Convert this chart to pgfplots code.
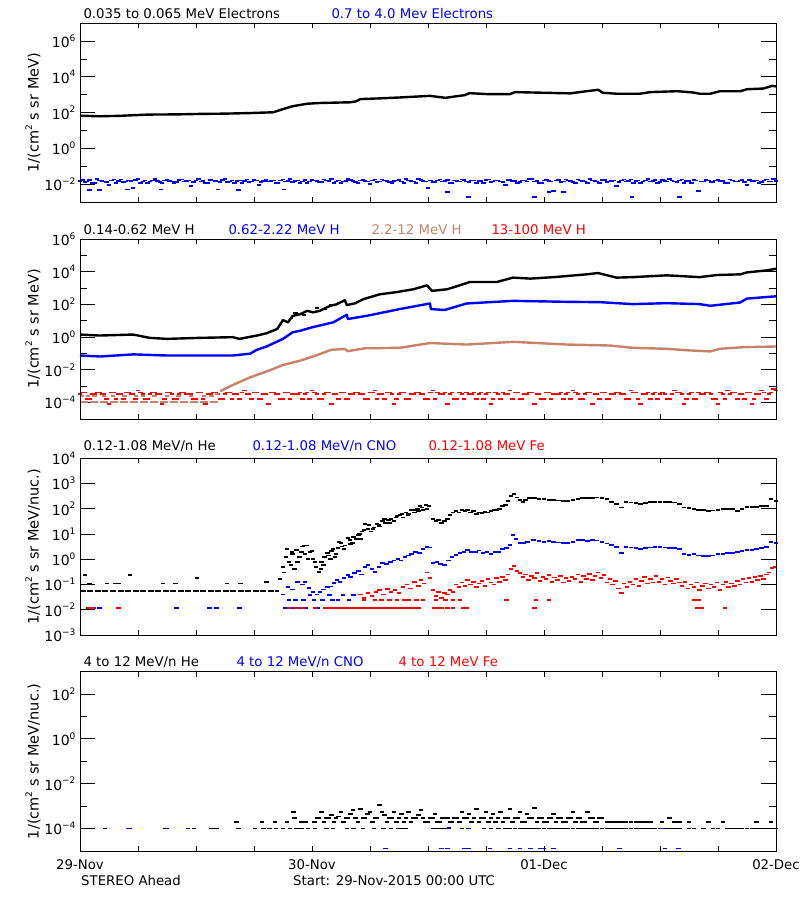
\documentclass[border=0pt]{standalone}
\usepackage{fontspec}
\setmainfont{DejaVu Sans}
\usepackage{pgfplots}
\pgfplotsset{compat=1.18}
\definecolor{idlblue}{RGB}{0,0,255}
\definecolor{idlred}{RGB}{255,0,0}
\definecolor{idlbrown}{RGB}{200,130,105}
\newcommand{\SP}[1]{\raisebox{0.45em}{\fontsize{9}{9}\selectfont #1}}
\pgfplotsset{
 panel/.style={scale only axis, width=696pt, xmin=0, xmax=72, anchor=north west,
  xtick=\empty, ytick pos=both, tick align=inside,
  major tick length=15pt, minor tick length=7pt,
  tick style={line width=0.9pt,black},
  axis line style={line width=0.9pt},
  yticklabel style={font=\fontsize{14}{16}\selectfont, xshift=-1pt},
  ylabel style={at={(axis description cs:-0.0675,0.5)},anchor=center,font=\fontsize{14.5}{16}\selectfont},
 },
 xov/.style={scale only axis, width=696pt, xmin=0, xmax=72, anchor=north west, ymin=0, ymax=1,
  ytick=\empty, xtick={0,24,48,72}, minor xtick={6,12,18,30,36,42,54,60,66}, xticklabels={},
  xtick pos=both, tick align=inside, major tick length=5pt, minor tick length=5pt,
  tick style={line width=0.9pt,black}, axis line style={line width=0.9pt}},
 sc/.style={only marks, mark=-, mark size=2.2pt, mark options={line width=1.8pt}},
 ln/.style={no marks, line width=2.4pt, line join=round},
}
\begin{document}
\begin{tikzpicture}[font=\fontsize{13.3}{15}\selectfont]
\path[use as bounding box] (0,0) rectangle (800pt,-900pt);
% ---------------- Panel 1
\begin{axis}[ymode=log, panel, at={(80pt,-23.3pt)}, height=178.7pt, ymin=1e-3, ymax=1e7,
  ytick={1e-2,1e0,1e2,1e4,1e6}, minor ytick={1e-3,1e-1,1e1,1e3,1e5},
  yticklabels={10\SP{−2},10\SP{0},10\SP{2},10\SP{4},10\SP{6}},
  ylabel={1/(cm\SP{2} s sr MeV)}]
\addplot[ln,black] coordinates {(0,68)(1,65)(2,63)(4,66)(7,78)(10,80)(12.4,85)(15,88)(17.6,95)(20,105)(21,158)(22,229)(23.5,316)(24.8,347)(27.9,380)(28.5,420)(29,575)(31,630)(33.1,708)(36.2,871)(37.8,676)(39.8,955)(40.3,1230)(42.1,1096)(44.5,1096)(45,1413)(50.7,1202)(52.4,1585)(53.6,1905)(54.1,1288)(55.5,1148)(57.9,1148)(59,1413)(61.8,1585)(63.4,1349)(64.1,1148)(65.2,1148)(66.2,1585)(68.3,1585)(69,2042)(70.7,2239)(71.6,3162)(72,2951)};
\addplot[sc,idlblue] coordinates {(0,0.015)(0.5,0.013)(1,0.017)(1.5,0.012)(2,0.016)(2.5,0.014)(3,0.009)(3.5,0.018)(4,0.015)(4.5,0.013)(5,0.016)(5.5,0.006)(6,0.019)(6.5,0.014)(7,0.012)(7.5,0.016)(8,0.015)(8.5,0.011)(9,0.017)(9.5,0.014)(10,0.013)(10.5,0.018)(11,0.015)(11.5,0.008)(12,0.016)(12.5,0.014)(13,0.012)(13.5,0.017)(14,0.015)(14.5,0.013)(15,0.019)(15.5,0.014)(16,0.011)(16.5,0.016)(17,0.015)(17.5,0.013)(18,0.017)(18.5,0.009)(19,0.015)(19.5,0.014)(20,0.016)(20.5,0.012)(21,0.018)(21.5,0.015)(22,0.013)(22.5,0.016)(23,0.014)(23.5,0.011)(24,0.017)(24.5,0.015)(25,0.013)(25.5,0.016)(26,0.019)(26.5,0.014)(27,0.012)(27.5,0.015)(28,0.017)(28.5,0.013)(29,0.016)(29.5,0.015)(30,0.010)(30.5,0.018)(31,0.014)(31.5,0.016)(32,0.013)(32.5,0.015)(33,0.017)(33.5,0.012)(34,0.016)(34.5,0.014)(35,0.019)(35.5,0.015)(36,0.006)(36.5,0.013)(37,0.016)(37.5,0.014)(38,0.017)(38.5,0.012)(39,0.015)(39.5,0.018)(40,0.014)(40.5,0.016)(41,0.011)(41.5,0.015)(42,0.017)(42.5,0.013)(43,0.016)(43.5,0.014)(44,0.009)(44.5,0.018)(45,0.015)(45.5,0.013)(46,0.016)(46.5,0.019)(47,0.014)(47.5,0.012)(48,0.016)(48.5,0.015)(49,0.004)(49.5,0.017)(50,0.014)(50.5,0.016)(51,0.013)(51.5,0.018)(52,0.015)(52.5,0.011)(53,0.016)(53.5,0.014)(54,0.017)(54.5,0.013)(55,0.015)(55.5,0.008)(56,0.016)(56.5,0.014)(57,0.018)(57.5,0.015)(58,0.012)(58.5,0.016)(59,0.014)(59.5,0.017)(60,0.013)(60.5,0.015)(61,0.019)(61.5,0.014)(62,0.016)(62.5,0.011)(63,0.015)(63.5,0.017)(64,0.004)(64.5,0.014)(65,0.016)(65.5,0.013)(66,0.018)(66.5,0.015)(67,0.012)(67.5,0.016)(68,0.014)(68.5,0.017)(69,0.009)(69.5,0.015)(70,0.016)(70.5,0.013)(71,0.018)(71.5,0.014)(72,0.015)
(38,0.0037)(40.2,0.0019)(47,0.0019)(48.5,0.0037)(50,0.0037)(57.1,0.0019)(62,0.0019)(1.0,0.0045)(2.0,0.0045)(4.9,0.005)(8.4,0.005)(14.3,0.005)(16.4,0.0045)(21.1,0.005)
(0.25,0.017)(0.75,0.014)(1.25,0.012)(1.75,0.019)(2.25,0.015)(2.75,0.013)(3.25,0.016)(3.75,0.011)(4.25,0.018)(4.75,0.014)(5.25,0.015)(5.75,0.017)(6.25,0.012)(6.75,0.016)(7.25,0.014)(7.75,0.019)(8.25,0.013)(8.75,0.016)(9.25,0.015)(9.75,0.012)(10.25,0.017)(10.75,0.014)(11.25,0.016)(11.75,0.013)(12.25,0.019)(12.75,0.015)(13.25,0.011)(13.75,0.016)(14.25,0.014)(14.75,0.017)(15.25,0.013)(15.75,0.016)(16.25,0.015)(16.75,0.012)(17.25,0.018)(17.75,0.014)(18.25,0.016)(18.75,0.013)(19.25,0.017)(19.75,0.015)(20.25,0.012)(20.75,0.016)(21.25,0.014)(21.75,0.019)(22.25,0.015)(22.75,0.012)(23.25,0.017)(23.75,0.014)(24.25,0.016)(24.75,0.013)(25.25,0.018)(25.75,0.015)(26.25,0.012)(26.75,0.016)(27.25,0.014)(27.75,0.019)(28.25,0.015)(28.75,0.011)(29.25,0.017)(29.75,0.014)(30.25,0.016)(30.75,0.013)(31.25,0.018)(31.75,0.015)(32.25,0.012)(32.75,0.016)(33.25,0.014)(33.75,0.02)(34.25,0.015)(34.75,0.012)(35.25,0.017)(35.75,0.014)(36.25,0.016)(36.75,0.013)(37.25,0.018)(37.75,0.015)(38.25,0.011)(38.75,0.016)(39.25,0.014)(39.75,0.017)(40.25,0.013)(40.75,0.016)(41.25,0.015)(41.75,0.012)(42.25,0.018)(42.75,0.014)(43.25,0.016)(43.75,0.013)(44.25,0.017)(44.75,0.015)(45.25,0.012)(45.75,0.016)(46.25,0.014)(46.75,0.019)(47.25,0.015)(47.75,0.012)(48.25,0.017)(48.75,0.014)(49.25,0.016)(49.75,0.013)(50.25,0.018)(50.75,0.015)(51.25,0.011)(51.75,0.016)(52.25,0.014)(52.75,0.019)(53.25,0.015)(53.75,0.012)(54.25,0.017)(54.75,0.014)(55.25,0.016)(55.75,0.013)(56.25,0.018)(56.75,0.015)(57.25,0.012)(57.75,0.016)(58.25,0.014)(58.75,0.02)(59.25,0.015)(59.75,0.012)(60.25,0.017)(60.75,0.014)(61.25,0.016)(61.75,0.013)(62.25,0.018)(62.75,0.015)(63.25,0.011)(63.75,0.016)(64.25,0.014)(64.75,0.017)(65.25,0.013)(65.75,0.016)(66.25,0.015)(66.75,0.012)(67.25,0.018)(67.75,0.014)(68.25,0.016)(68.75,0.013)(69.25,0.017)(69.75,0.015)(70.25,0.012)(70.75,0.016)(71.25,0.014)(71.75,0.019)};
\end{axis}
\begin{axis}[xov, at={(80pt,-23.3pt)}, height=178.7pt]\end{axis}
% ---------------- Panel 2
\begin{axis}[ymode=log, panel, at={(80pt,-239pt)}, height=180pt, ymin=1e-5, ymax=1e6,
  ytick={1e-4,1e-2,1e0,1e2,1e4,1e6}, minor ytick={1e-5,1e-3,1e-1,1e1,1e3,1e5},
  yticklabels={10\SP{−4},10\SP{−2},10\SP{0},10\SP{2},10\SP{4},10\SP{6}},
  ylabel={1/(cm\SP{2} s sr MeV)}]
\addplot[sc,idlred] coordinates {(0,3.2e-4)(0.5,4.2e-4)(1,1.7e-4)(1.5,3.2e-4)(2,4.2e-4)(2.5,3.2e-4)(3,8.3e-5)(3.5,4.2e-4)(4,3.2e-4)(4.5,1.7e-4)(5,4.2e-4)(5.5,3.2e-4)(6,5.5e-4)(6.5,3.2e-4)(7,1.7e-4)(7.5,4.2e-4)(8,3.2e-4)(8.5,8.3e-5)(9,4.2e-4)(9.5,3.2e-4)(10,1.7e-4)(10.5,4.2e-4)(11,3.2e-4)(11.5,3.2e-4)(12,1.7e-4)(12.5,4.2e-4)(13,8.3e-5)(13.5,3.2e-4)(14,4.2e-4)(14.5,1.7e-4)(15,3.2e-4)(15.5,4.2e-4)(16,3.2e-4)(16.5,1.7e-4)(17,5.5e-4)(17.5,3.2e-4)(18,4.2e-4)(18.5,1.7e-4)(19,3.2e-4)(19.5,8.3e-5)(20,4.2e-4)(20.5,3.2e-4)(21,1.7e-4)(21.5,4.2e-4)(22,3.2e-4)(22.5,3.2e-4)(23,1.7e-4)(23.5,4.2e-4)(24,5.5e-4)(24.5,3.2e-4)(25,1.7e-4)(25.5,4.2e-4)(26,8.3e-5)(26.5,3.2e-4)(27,4.2e-4)(27.5,1.7e-4)(28,3.2e-4)(28.5,4.2e-4)(29,3.2e-4)(29.5,1.7e-4)(30,4.2e-4)(30.5,5.5e-4)(31,3.2e-4)(31.5,1.7e-4)(32,4.2e-4)(32.5,8.3e-5)(33,3.2e-4)(33.5,4.2e-4)(34,1.7e-4)(34.5,3.2e-4)(35,4.2e-4)(35.5,3.2e-4)(36,1.7e-4)(36.5,5.5e-4)(37,4.2e-4)(37.5,3.2e-4)(38,8.3e-5)(38.5,4.2e-4)(39,1.7e-4)(39.5,3.2e-4)(40,4.2e-4)(40.5,3.2e-4)(41,1.7e-4)(41.5,4.2e-4)(42,3.2e-4)(42.5,8.3e-5)(43,4.2e-4)(43.5,1.7e-4)(44,3.2e-4)(44.5,5.5e-4)(45,4.2e-4)(45.5,1.7e-4)(46,3.2e-4)(46.5,4.2e-4)(47,8.3e-5)(47.5,3.2e-4)(48,1.7e-4)(48.5,4.2e-4)(49,3.2e-4)(49.5,3.2e-4)(50,1.7e-4)(50.5,4.2e-4)(51,5.5e-4)(51.5,3.2e-4)(52,1.7e-4)(52.5,4.2e-4)(53,8.3e-5)(53.5,3.2e-4)(54,4.2e-4)(54.5,1.7e-4)(55,3.2e-4)(55.5,4.2e-4)(56,3.2e-4)(56.5,1.7e-4)(57,5.5e-4)(57.5,4.2e-4)(58,8.3e-5)(58.5,3.2e-4)(59,1.7e-4)(59.5,4.2e-4)(60,3.2e-4)(60.5,3.2e-4)(61,1.7e-4)(61.5,5.5e-4)(62,4.2e-4)(62.5,8.3e-5)(63,3.2e-4)(63.5,1.7e-4)(64,4.2e-4)(64.5,3.2e-4)(65,4.2e-4)(65.5,1.7e-4)(66,8.3e-5)(66.5,3.2e-4)(67,5.5e-4)(67.5,4.2e-4)(68,1.7e-4)(68.5,3.2e-4)(69,4.2e-4)(69.5,8.3e-5)(70,3.2e-4)(70.5,5.5e-4)(71,1.7e-4)(71.5,4.2e-4)(72,5.5e-4)
(0.25,4.2e-4)(0.75,1.7e-4)(1.25,3.2e-4)(1.75,4.2e-4)(2.25,3.2e-4)(2.75,1.7e-4)(3.25,4.2e-4)(3.75,1.7e-4)(4.25,3.2e-4)(4.75,4.2e-4)(5.25,3.2e-4)(5.75,1.7e-4)(6.25,4.2e-4)(6.75,1.7e-4)(7.25,3.2e-4)(7.75,4.2e-4)(8.25,3.2e-4)(8.75,1.7e-4)(9.25,4.2e-4)(9.75,1.7e-4)(10.25,3.2e-4)(10.75,4.2e-4)(11.25,3.2e-4)(11.75,1.7e-4)(12.25,4.2e-4)(12.75,1.7e-4)(13.25,3.2e-4)(13.75,4.2e-4)(14.25,3.2e-4)(14.75,1.7e-4)(15.25,4.2e-4)(15.75,1.7e-4)(16.25,3.2e-4)(16.75,4.2e-4)(17.25,3.2e-4)(17.75,1.7e-4)(18.25,4.2e-4)(18.75,1.7e-4)(19.25,3.2e-4)(19.75,4.2e-4)(20.25,3.2e-4)(20.75,1.7e-4)(21.25,4.2e-4)(21.75,1.7e-4)(22.25,3.2e-4)(22.75,4.2e-4)(23.25,3.2e-4)(23.75,1.7e-4)(24.25,4.2e-4)(24.75,1.7e-4)(25.25,3.2e-4)(25.75,4.2e-4)(26.25,3.2e-4)(26.75,1.7e-4)(27.25,4.2e-4)(27.75,1.7e-4)(28.25,3.2e-4)(28.75,4.2e-4)(29.25,3.2e-4)(29.75,1.7e-4)(30.25,4.2e-4)(30.75,1.7e-4)(31.25,3.2e-4)(31.75,4.2e-4)(32.25,3.2e-4)(32.75,1.7e-4)(33.25,4.2e-4)(33.75,1.7e-4)(34.25,3.2e-4)(34.75,4.2e-4)(35.25,3.2e-4)(35.75,1.7e-4)(36.25,4.2e-4)(36.75,1.7e-4)(37.25,3.2e-4)(37.75,4.2e-4)(38.25,3.2e-4)(38.75,1.7e-4)(39.25,4.2e-4)(39.75,1.7e-4)(40.25,3.2e-4)(40.75,4.2e-4)(41.25,3.2e-4)(41.75,1.7e-4)(42.25,4.2e-4)(42.75,1.7e-4)(43.25,3.2e-4)(43.75,4.2e-4)(44.25,3.2e-4)(44.75,1.7e-4)(45.25,4.2e-4)(45.75,1.7e-4)(46.25,3.2e-4)(46.75,4.2e-4)(47.25,3.2e-4)(47.75,1.7e-4)(48.25,4.2e-4)(48.75,1.7e-4)(49.25,3.2e-4)(49.75,4.2e-4)(50.25,3.2e-4)(50.75,1.7e-4)(51.25,4.2e-4)(51.75,1.7e-4)(52.25,3.2e-4)(52.75,4.2e-4)(53.25,3.2e-4)(53.75,1.7e-4)(54.25,4.2e-4)(54.75,1.7e-4)(55.25,3.2e-4)(55.75,4.2e-4)(56.25,3.2e-4)(56.75,1.7e-4)(57.25,4.2e-4)(57.75,1.7e-4)(58.25,3.2e-4)(58.75,4.2e-4)(59.25,3.2e-4)(59.75,1.7e-4)(60.25,4.2e-4)(60.75,1.7e-4)(61.25,3.2e-4)(61.75,4.2e-4)(62.25,3.2e-4)(62.75,1.7e-4)(63.25,4.2e-4)(63.75,1.7e-4)(64.25,3.2e-4)(64.75,4.2e-4)(65.25,3.2e-4)(65.75,1.7e-4)(66.25,4.2e-4)(66.75,1.7e-4)(67.25,3.2e-4)(67.75,4.2e-4)(68.25,3.2e-4)(68.75,1.7e-4)(69.25,4.2e-4)(69.75,1.7e-4)(70.25,3.2e-4)(70.75,4.2e-4)(71.25,3.2e-4)(71.75,6.5e-4)};
\addplot[no marks, idlbrown, line width=2pt, dash pattern=on 8pt off 2pt] coordinates {(0,1.15e-4)(14.3,1.15e-4)};
\addplot[sc,idlbrown] coordinates {(0.2,2.5e-4)(0.8,2.5e-4)(1.5,2.5e-4)(2.5,2.5e-4)(3.4,2.5e-4)(4.6,2.5e-4)(5.8,2.5e-4)(6.5,2.5e-4)(7.7,2.5e-4)(9.0,2.5e-4)(10.2,2.5e-4)(11.5,2.5e-4)(12.8,2.5e-4)(13.6,2.5e-4)(14.2,3.2e-4)};
\addplot[ln,idlbrown] coordinates {(14.5,5e-4)(15.8,1.2e-3)(17.6,3.5e-3)(19.3,8e-3)(21,0.02)(22.8,0.037)(24.5,0.08)(26,0.17)(27.4,0.19)(27.7,0.14)(29.5,0.21)(33.1,0.224)(36.2,0.44)(40,0.355)(44.8,0.52)(50.4,0.355)(54.8,0.31)(57.2,0.224)(60.7,0.195)(63.1,0.155)(65.2,0.135)(66.2,0.195)(68.6,0.245)(72,0.27)};
\addplot[ln,idlblue] coordinates {(0,0.076)(2.1,0.066)(5.5,0.089)(9,0.076)(12.4,0.076)(15.8,0.076)(17.6,0.098)(18.3,0.17)(19.3,0.27)(21,0.79)(22,2.0)(22.8,2.5)(24,4)(26.2,8.1)(27.6,23.4)(27.7,12.9)(29.7,20.4)(33.1,52.5)(36.2,115)(36.3,52.5)(37.7,45.7)(40,115)(44.8,166)(50.4,145)(53.8,138)(57.2,105)(60.7,120)(64.1,105)(65.2,83)(68.3,132)(69,229)(72,316)};
\addplot[ln,black] coordinates {(0,1.45)(2,1.26)(5.5,1.45)(7.2,0.91)(9,0.79)(12.4,0.91)(15.8,1.0)(16.5,0.79)(18.3,1.26)(19.3,1.74)(20.4,3.16)(21,11.2)(21.5,8)(22,20)(22.8,25.7)(23.5,40.7)(24.1,33)(24.8,40.7)(25.9,83)(26.5,100)(27.4,182)(27.6,91)(28.5,120)(29.3,209)(31,417)(32.8,575)(34.5,851)(35.9,1479)(36.4,676)(38,851)(39.6,1698)(40.3,2344)(43.1,2344)(44.8,4365)(46.6,3802)(49,4677)(52.4,6918)(53.6,8318)(55.5,4365)(57.2,4677)(60.7,6026)(64.1,4677)(65.9,6310)(68.3,6918)(69,9120)(71,12020)(72,15140)};
\addplot[sc,black] coordinates {(21.8,14)(22.3,30)(23.2,22)(24.5,60)(25.3,55)(26.0,100)(26.8,130)};
\end{axis}
\begin{axis}[xov, at={(80pt,-239pt)}, height=180pt]\end{axis}
% ---------------- Panel 3
\begin{axis}[ymode=log, panel, at={(80pt,-458.3pt)}, height=176.7pt, ymin=1e-3, ymax=1e4,
  ytick={1e-3,1e-2,1e-1,1e0,1e1,1e2,1e3,1e4}, yminorticks=false,
  yticklabels={10\SP{−3},10\SP{−2},10\SP{−1},10\SP{0},10\SP{1},10\SP{2},10\SP{3},10\SP{4}},
  ylabel={1/(cm\SP{2} s sr MeV/nuc.)}]
\addplot[no marks, black, line width=2pt, dash pattern=on 6pt off 1.5pt] coordinates {(0,0.057)(20.6,0.057)};
\addplot[sc,black] coordinates {(0.5,0.24)(1.0,0.11)(2.8,0.11)(3.6,0.11)(4.0,0.11)(5.2,0.24)(8.6,0.11)(9.9,0.11)(12.1,0.18)(15.2,0.11)(16.6,0.11)(19.3,0.13)
(20.7,0.16)(21,0.5)(21.3,1.26)(21.6,0.79)(21.9,2.0)(22.2,0.4)(22.4,2.3)(22.7,1.26)(23,3.2)(23.3,1.6)(23.5,3.5)(23.8,2.0)(24.1,1.0)(24.4,0.5)(24.7,0.32)(25,0.8)(25.3,1.26)(25.6,1.8)(25.9,1.0)(26.2,2.5)(26.5,1.6)(26.8,5.0)(27.1,3.2)(27.4,3.5)(27.7,7.1)(28,4.0)(28.3,7.9)(28.6,6.3)(28.9,10)(29.2,12.6)(29.5,25)(29.8,16)(30.1,12.6)(30.4,18)(30.7,25)(31,20)(31.3,32)(31.6,28)(31.9,35)(32.2,40)(32.5,32)(32.8,50)(33.1,56)(33.4,45)(33.7,71)(34,63)(34.3,89)(34.6,71)(34.9,100)(35.2,126)(35.5,89)(35.8,141)(36.1,132)
(21.1,0.3)(21.4,2.5)(21.8,0.6)(22.0,1.6)(22.5,0.8)(22.9,2.0)(23.2,3.5)(23.6,1.0)(24.0,2.2)(24.3,0.8)(24.9,0.4)(25.2,0.6)(25.7,1.4)(26.0,2.2)(26.4,1.2)(26.7,2.8)(27.0,4.5)(27.3,2.5)(27.9,5.6)(28.2,4.5)(28.8,8.9)(29.0,6.3)(29.4,14)(29.9,22)(30.3,16)(30.9,22)(31.5,40)(32.0,28)(32.7,45)(33.3,63)(33.9,56)(34.5,89)(35.0,79)(35.4,112)(35.9,100)
(36.5,40)(36.8,32)(37.1,35)(37.4,28)(37.7,32)(38,40)(38.3,56)(38.6,71)(38.9,79)(39.2,71)(39.5,89)(39.8,79)(40.1,89)(40.4,71)(40.7,79)(41,63)(41.3,71)(41.6,66)(41.9,76)(42.2,71)(42.5,79)(42.8,89)(43.1,89)(43.4,100)(43.7,126)(44,141)(44.3,200)(44.6,316)(44.9,398)(45.2,282)(45.5,224)(45.8,191)(46.1,224)(46.5,263)(47,263)(47.5,240)(48,251)(48.5,229)(49,224)(49.5,214)(50,204)(50.5,200)(51,224)(51.5,251)(52,275)(52.5,275)(53,263)(53.5,282)(54,275)(54.5,240)(55,191)(55.5,158)(56,112)(56.5,191)(57,178)(57.5,166)(58,158)(58.5,174)(59,186)(59.5,191)(60,191)(60.5,186)(61,182)(61.5,178)(62,158)(62.5,112)(63,107)(63.5,100)(64,91)(64.5,87)(65,83)(65.5,85)(66,91)(66.5,95)(67,100)(67.5,100)(68,83)(68.5,95)(69,117)(69.5,115)(70,120)(70.5,126)(71,132)(71.5,240)(72,200)};
\addplot[sc,idlblue] coordinates {(0.9,0.012)(1.4,0.012)(2.0,0.012)(10,0.012)(13.4,0.012)(14.1,0.012)(16.5,0.012)
(21.2,0.012)(21.6,0.025)(21.9,0.012)(22.3,0.025)(22.6,0.012)(23.1,0.025)(23.4,0.012)(23.8,0.038)(24.2,0.025)(24.6,0.012)(25.1,0.025)(25.4,0.012)(25.8,0.038)(26.1,0.025)(26.7,0.025)(27.2,0.038)(27.8,0.025)(28.3,0.038)
(21,0.04)(21.5,0.08)(22,0.063)(22.5,0.126)(23,0.1)(23.3,0.126)(23.7,0.071)(24.1,0.05)(24.5,0.04)(24.8,0.052)(25.2,0.063)(25.6,0.08)(25.9,0.083)(26.3,0.112)(26.6,0.15)(26.9,0.126)(27.3,0.178)(27.7,0.24)(28.0,0.2)(28.4,0.28)(28.8,0.35)(29.1,0.25)(29.5,0.5)(29.8,0.59)(30.2,0.4)(30.5,0.32)(30.9,0.5)(31.3,0.69)(31.7,0.63)(32.1,0.79)(32.5,0.89)(32.9,1.0)(33.2,0.89)(33.6,1.26)(34.0,1.41)(34.3,1.58)(34.7,1.9)(35.1,1.78)(35.5,2.5)(35.9,3.0)(36.2,2.95)(36.5,0.69)(36.9,0.79)(37.3,0.63)(37.7,0.59)(38.1,0.89)(38.5,1.26)(38.9,1.48)(39.3,1.78)(39.7,2.0)(40.1,2.34)(40.5,2.0)(40.9,1.9)(41.3,2.24)(41.7,1.74)(42.1,2.0)(42.5,1.66)(42.9,2.0)(43.3,2.0)(43.7,2.5)(44.1,2.75)(44.5,3.7)(44.8,9.1)(45.1,6.3)(45.5,4.3)(45.9,4.3)(46.3,5.0)(46.9,5.75)(47.5,5.25)(48,5.0)(48.5,5.25)(49,4.8)(49.5,4.6)(50,4.3)(50.5,4.3)(51,4.8)(51.5,5.6)(52,6.0)(52.5,5.4)(53,5.75)(53.5,5.5)(54,5.0)(54.5,4.2)(55,3.7)(55.5,3.16)(56,1.74)(56.5,3.16)(57,2.95)(57.5,2.75)(58,2.63)(58.5,2.75)(59,2.95)(59.5,3.16)(60,3.0)(60.5,2.95)(61,2.9)(61.5,2.75)(62,2.5)(62.5,1.58)(63,1.48)(63.5,1.58)(64,1.41)(64.5,1.35)(65,1.35)(65.5,1.41)(66,1.58)(66.5,1.66)(67,1.74)(67.5,1.74)(68,2.0)(68.5,2.14)(69,2.34)(69.5,2.34)(70,2.5)(70.5,2.75)(71,3.16)(71.5,4.7)(72,4.3)};
\addplot[sc,idlred] coordinates {(1.0,0.012)(1.3,0.012)(4.0,0.012)
(21.6,0.012)(22.4,0.012)(23.0,0.012)(24.3,0.012)(25.4,0.012)(25.8,0.012)(26.2,0.012)(26.6,0.012)(27.0,0.012)(27.4,0.012)(27.8,0.012)(28.2,0.012)(28.6,0.012)(29.0,0.012)(29.4,0.012)(29.8,0.012)(30.2,0.012)(30.6,0.012)(31.0,0.012)(31.4,0.012)(31.8,0.012)(32.2,0.012)(32.6,0.012)(33.0,0.012)(33.4,0.012)(33.8,0.012)(34.2,0.012)(34.6,0.012)(35.0,0.012)(36.6,0.012)(37.0,0.012)(37.4,0.012)(38.0,0.012)(38.6,0.012)(39.6,0.012)(40.0,0.012)(47.0,0.012)(63.8,0.012)(64.3,0.012)(66.7,0.012)
(29.4,0.025)(30.5,0.025)(31.2,0.025)(32.0,0.025)(32.8,0.025)(33.5,0.025)(34.0,0.025)(34.8,0.025)(35.5,0.025)(36.8,0.025)(37.8,0.025)(38.6,0.025)(39.3,0.025)(44.1,0.025)(47.2,0.025)(48.5,0.025)(63.5,0.025)(64.0,0.025)
(29.0,0.04)(29.4,0.03)(29.8,0.045)(30.2,0.035)(30.6,0.05)(31.0,0.06)(31.4,0.04)(31.8,0.065)(32.2,0.05)(32.6,0.06)(33.0,0.045)(33.4,0.08)(33.8,0.1)(34.2,0.07)(34.6,0.13)(35.0,0.09)(35.3,0.15)(35.6,0.11)(35.9,0.3)(36.2,0.18)(36.5,0.06)(36.8,0.035)(37.1,0.05)(37.4,0.03)(37.7,0.045)(38.0,0.04)(38.3,0.06)(38.6,0.05)(38.9,0.1)(39.2,0.08)(39.5,0.12)(39.8,0.09)(40.1,0.15)(40.4,0.1)(40.7,0.13)(41.0,0.08)(41.3,0.11)(41.6,0.14)(41.9,0.09)(42.2,0.16)(42.5,0.12)(42.8,0.1)(43.1,0.18)(43.4,0.13)(43.7,0.2)(44.0,0.15)(44.3,0.25)(44.6,0.4)(44.9,0.55)(45.2,0.35)(45.5,0.28)(45.8,0.2)(46.1,0.25)(46.4,0.15)(46.7,0.22)(47.0,0.18)(47.3,0.28)(47.6,0.14)(47.9,0.2)(48.2,0.16)(48.5,0.24)(48.8,0.13)(49.1,0.19)(49.4,0.15)(49.7,0.22)(50.0,0.12)(50.3,0.18)(50.6,0.14)(50.9,0.2)(51.2,0.16)(51.5,0.25)(51.8,0.13)(52.1,0.21)(52.4,0.17)(52.7,0.26)(53.0,0.15)(53.3,0.22)(53.6,0.3)(53.9,0.18)(54.2,0.24)(54.5,0.12)(54.8,0.16)(55.1,0.1)(55.4,0.14)(55.7,0.07)(56.0,0.045)(56.3,0.11)(56.6,0.08)(56.9,0.13)(57.2,0.1)(57.5,0.16)(57.8,0.09)(58.1,0.14)(58.4,0.2)(58.7,0.11)(59.0,0.17)(59.3,0.12)(59.6,0.22)(59.9,0.13)(60.2,0.16)(60.5,0.1)(60.8,0.19)(61.1,0.14)(61.4,0.11)(61.7,0.17)(62.0,0.12)(62.3,0.09)(62.6,0.13)(62.9,0.07)(63.2,0.1)(63.5,0.08)(63.8,0.12)(64.1,0.06)(64.4,0.09)(64.7,0.11)(65.0,0.07)(65.3,0.1)(65.6,0.08)(65.9,0.12)(66.2,0.06)(66.5,0.1)(66.8,0.13)(67.1,0.08)(67.4,0.11)(67.7,0.09)(68.0,0.14)(68.3,0.1)(68.6,0.16)(68.9,0.12)(69.2,0.18)(69.5,0.13)(69.8,0.2)(70.1,0.15)(70.4,0.22)(70.7,0.17)(71.0,0.25)(71.3,0.3)(71.6,0.45)(71.9,0.5)};
\end{axis}
\begin{axis}[xov, at={(80pt,-458.3pt)}, height=176.7pt]\end{axis}
% ---------------- Panel 4
\begin{axis}[ymode=log, panel, at={(80pt,-671.7pt)}, height=179.3pt, ymin=1e-5, ymax=1e3,
  ytick={1e-4,1e-2,1e0,1e2}, minor ytick={1e-5,1e-3,1e-1,1e1,1e3},
  yticklabels={10\SP{−4},10\SP{−2},10\SP{0},10\SP{2}},
  ylabel={1/(cm\SP{2} s sr MeV/nuc.)}]
\addplot[sc,black] coordinates {(2.6,1e-4)(5.2,1e-4)(8.8,1e-4)(9.0,1e-4)(11.8,1e-4)(13.6,1e-4)(14.1,1e-4)(16.4,1e-4)(18.1,1e-4)(19.0,1e-4)(19.6,1e-4)(20.3,1e-4)(21.0,1e-4)(21.7,1e-4)(22.4,1e-4)(22.9,1e-4)(23.6,1e-4)(24.3,1e-4)(25.5,1e-4)(26.2,1e-4)(27.6,1e-4)(28.3,1e-4)(29.3,1e-4)(30.4,1e-4)(31.4,1e-4)(32.2,1e-4)(32.9,1e-4)(33.3,1e-4)(33.7,1e-4)(36.5,1e-4)(37.0,1e-4)(37.5,1e-4)(38.0,1e-4)(39.5,1e-4)(40.2,1e-4)(41.8,1e-4)(42.5,1e-4)(43.3,1e-4)(44.0,1e-4)(44.5,1e-4)(45.0,1e-4)(45.5,1e-4)(46.0,1e-4)(46.5,1e-4)(47.0,1e-4)(47.5,1e-4)(48.0,1e-4)(48.5,1e-4)(49.0,1e-4)(49.5,1e-4)(50.0,1e-4)(50.5,1e-4)(51.0,1e-4)(51.5,1e-4)(52.0,1e-4)(52.5,1e-4)(53.0,1e-4)(53.5,1e-4)(54.0,1e-4)(54.5,1e-4)(55.0,1e-4)(55.5,1e-4)(56.0,1e-4)(56.5,1e-4)(57.0,1e-4)(57.5,1e-4)(58.0,1e-4)(58.5,1e-4)(59.0,1e-4)(59.5,1e-4)(60.0,1e-4)(60.5,1e-4)(61.0,1e-4)(61.5,1e-4)(62.0,1e-4)(63.0,1e-4)(63.5,1e-4)(64.5,1e-4)(65.5,1e-4)(66.0,1e-4)(67.0,1e-4)(67.5,1e-4)(68.0,1e-4)(68.5,1e-4)(69.0,1e-4)(69.5,1e-4)(70.0,1e-4)(70.5,1e-4)(71.0,1e-4)(71.5,1e-4)(72.0,1e-4)
(16.2,1.9e-4)(18.8,1.9e-4)(20.2,1.9e-4)(21.4,1.9e-4)(22.1,5.5e-4)(22.2,2.9e-4)(22.9,1.9e-4)(23.4,1.9e-4)(24.5,2.9e-4)(25.0,5.5e-4)(25.5,2.9e-4)(26.0,4e-4)(26.5,2.9e-4)(27.0,5.5e-4)(27.5,2.9e-4)(28.0,4.5e-4)(28.5,2.9e-4)(29.0,7.7e-4)(29.5,2.9e-4)(30.0,5.5e-4)(30.5,2.9e-4)(31.0,1.1e-3)(31.5,4e-4)(32.0,2.9e-4)(32.5,5.5e-4)(33.0,2.9e-4)(33.5,1.9e-4)(34.0,5.5e-4)(34.5,2.9e-4)(35.0,4e-4)(35.5,2.9e-4)(36.0,1.9e-4)(36.5,2.9e-4)(37.0,1.9e-4)(37.5,2.9e-4)(38.0,2.9e-4)(38.5,1.9e-4)(39.0,2.9e-4)(39.5,5.5e-4)(40.0,2.9e-4)(40.5,1.9e-4)(41.0,7.7e-4)(41.5,2.9e-4)(42.0,5.5e-4)(42.5,2.9e-4)(43.0,1.9e-4)(43.5,5.5e-4)(44.0,2.9e-4)(44.5,7.7e-4)(45.0,2.9e-4)(45.5,5.5e-4)(46.0,1.9e-4)(46.5,2.9e-4)(47.0,8.5e-4)(47.5,2.9e-4)(48.0,1.9e-4)(48.5,2.9e-4)(49.0,4.5e-4)(49.5,2.9e-4)(50.0,1.9e-4)(50.5,2.9e-4)(51.0,5.5e-4)(51.5,2.9e-4)(52.0,1.9e-4)(52.5,5.5e-4)(53.0,2.9e-4)(53.5,1.9e-4)(54.0,2.9e-4)(54.5,1.9e-4)(55.0,1.9e-4)(56.0,1.9e-4)(57.0,1.9e-4)(58.0,1.9e-4)(59.0,1.9e-4)(60.2,1.9e-4)(61.0,2.9e-4)(61.5,1.9e-4)(62.0,1.9e-4)(63.0,1.9e-4)(65.0,1.9e-4)(66.5,1.9e-4)(70.0,1.9e-4)(71.5,1.9e-4)
(24.25,1.9e-4)(24.75,2.9e-4)(25.25,1.9e-4)(25.75,2.9e-4)(26.25,1.9e-4)(26.75,3.5e-4)(27.25,1.9e-4)(27.75,2.9e-4)(28.25,6.5e-4)(28.75,1.9e-4)(29.25,2.9e-4)(29.75,4.5e-4)(30.25,1.9e-4)(30.75,2.9e-4)(31.25,5.5e-4)(31.75,1.9e-4)(32.25,2.9e-4)(32.75,1.9e-4)(33.25,4.5e-4)(33.75,2.9e-4)(34.25,1.9e-4)(34.75,2.9e-4)(35.25,6.5e-4)(35.75,1.9e-4)(36.25,2.9e-4)(36.75,4.5e-4)(37.25,1.9e-4)(37.75,2.9e-4)(38.25,1.9e-4)(38.75,2.9e-4)(39.25,1.9e-4)(39.75,2.9e-4)(40.25,4.5e-4)(40.75,2.9e-4)(41.25,1.9e-4)(41.75,2.9e-4)(42.25,1.9e-4)(42.75,4.5e-4)(43.25,2.9e-4)(43.75,1.9e-4)(44.25,2.9e-4)(44.75,1.9e-4)(45.25,2.9e-4)(45.75,1.9e-4)(46.25,4.5e-4)(46.75,2.9e-4)(47.25,1.9e-4)(47.75,2.9e-4)(48.25,1.9e-4)(48.75,2.9e-4)(49.25,1.9e-4)(49.75,2.9e-4)(50.25,1.9e-4)(50.75,2.9e-4)(51.25,1.9e-4)(51.75,2.9e-4)(52.25,1.9e-4)(52.75,2.9e-4)(53.25,1.9e-4)(53.75,2.9e-4)(55.5,1.9e-4)(56.5,1.9e-4)(57.5,1.9e-4)(58.5,1.9e-4)};
\addplot[sc,idlblue] coordinates {(5.0,1e-4)(9.0,1e-4)(11.2,1e-4)(38.2,1.1e-4)(40.2,1e-4)(60.2,1e-4)(31.6,1.3e-5)(37.4,1.3e-5)(38,1.3e-5)(39.7,1.3e-5)(40.2,1.3e-5)(42.4,1.3e-5)(44.5,1.3e-5)(45.5,1.3e-5)(46.6,1.3e-5)(47.6,1.3e-5)(48,1.3e-5)(49,1.3e-5)(55.8,1.3e-5)(60.5,1.3e-5)(61.9,1.3e-5)};
\end{axis}
\begin{axis}[xov, at={(80pt,-671.7pt)}, height=179.3pt,
  xticklabels={29-Nov,30-Nov,01-Dec,02-Dec},
  xticklabel style={font=\fontsize{13.3}{14}\selectfont, inner sep=1pt, yshift=-7pt}]\end{axis}
% ---------------- Titles and footer
\node[anchor=base west] at (80pt,-18.3pt) {0.035 to 0.065 MeV Electrons};
\node[anchor=base west, text=idlblue] at (328pt,-18.3pt) {0.7 to 4.0 Mev Electrons};
\node[anchor=base west] at (80pt,-234pt) {0.14-0.62 MeV H};
\node[anchor=base west, text=idlblue] at (225pt,-234pt) {0.62-2.22 MeV H};
\node[anchor=base west, text=idlbrown] at (368pt,-234pt) {2.2-12 MeV H};
\node[anchor=base west, text=idlred] at (488pt,-234pt) {13-100 MeV H};
\node[anchor=base west] at (80pt,-450pt) {0.12-1.08 MeV/n He};
\node[anchor=base west, text=idlblue] at (249pt,-450pt) {0.12-1.08 MeV/n CNO};
\node[anchor=base west, text=idlred] at (425pt,-450pt) {0.12-1.08 MeV Fe};
\node[anchor=base west] at (80pt,-666pt) {4 to 12 MeV/n He};
\node[anchor=base west, text=idlblue] at (233pt,-666pt) {4 to 12 MeV/n CNO};
\node[anchor=base west, text=idlred] at (395pt,-666pt) {4 to 12 MeV Fe};
\node[anchor=base west, inner sep=1pt] at (80pt,-885pt) {STEREO Ahead};
\node[anchor=base west, inner sep=1pt] at (292pt,-885pt) {Start: 29-Nov-2015 00:00 UTC};
\end{tikzpicture}
\end{document}
